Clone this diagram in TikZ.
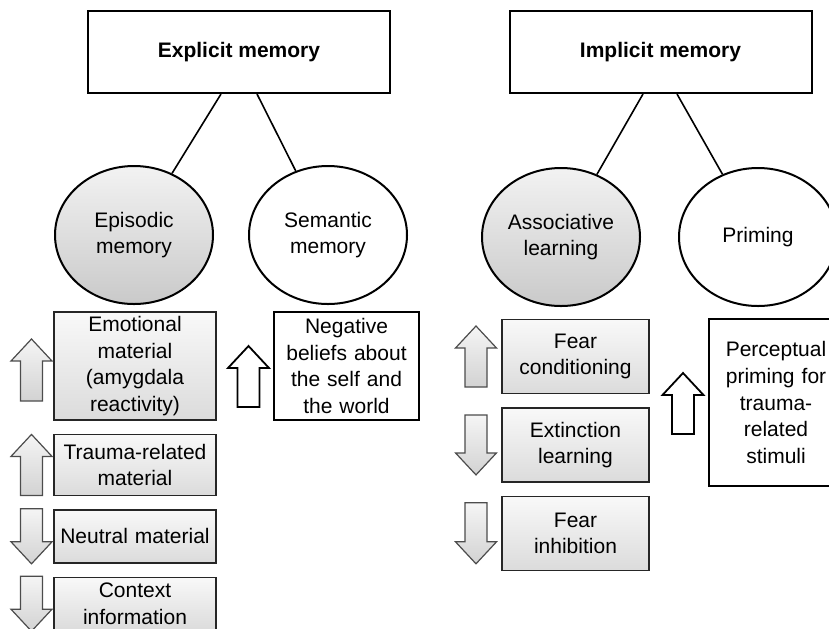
\documentclass[tikz,border=0pt]{standalone}
\usepackage{fontspec}
\setmainfont{Liberation Sans}
\usetikzlibrary{shapes.geometric, positioning}

\begin{document}
\begin{tikzpicture}[x=0.5pt, y=-0.5pt, node distance=6.5pt,
    every node/.style={font=\fontsize{10.5}{13.3}\selectfont, align=center},
    topbox/.style={draw, line width=1pt, minimum width=151pt, minimum height=41pt},
    oval/.style={ellipse, draw, line width=1pt, minimum width=79pt, minimum height=69pt, inner sep=0pt},
    grayoval/.style={oval, top color=gray!10, bottom color=gray!42},
    graybox/.style={draw=gray!30!black, line width=0.7pt, top color=gray!5, bottom color=gray!28, inner xsep=2pt, inner ysep=1pt},
    whitebox/.style={draw, line width=1pt, fill=white, inner xsep=2pt},
    arrgray/.style={draw=gray!60!black, line width=0.6pt, top color=gray!8, bottom color=gray!35},
    arrwhite/.style={draw, line width=0.9pt, fill=white},
    link/.style={line width=0.8pt},
    uparr/.pic={\path[pic actions] (0,-#1) -- (20.5,22-#1) -- (11,22-#1) -- (11,#1) -- (-11,#1) -- (-11,22-#1) -- (-20.5,22-#1) -- cycle;},
    downarr/.pic={\path[pic actions] (0,#1) -- (20.5,#1-22) -- (11,#1-22) -- (11,-#1) -- (-11,-#1) -- (-11,#1-22) -- (-20.5,#1-22) -- cycle;}]
        \useasboundingbox (0,0) rectangle (829,628);
        % Define the top boxes
        \node[topbox] (expl) at (239,52) {\textbf{Explicit memory}};
        \node[topbox] (impl) at (660.5,52) {\textbf{Implicit memory}};
        % Define the ovals
        \node[grayoval] (epi) at (134,235) {Episodic\\memory};
        \node[oval] (sem) at (328,235) {Semantic\\memory};
        \node[grayoval] (assoc) at (561,237) {Associative\\learning};
        \node[oval] (prim) at (758,237) {Priming};
        % Define the links
        \draw[link] ([xshift=-9pt]expl.south) -- (epi);
        \draw[link] ([xshift=9pt]expl.south) -- (sem);
        \draw[link] ([xshift=-8.75pt]impl.south) -- (assoc);
        \draw[link] ([xshift=8.25pt]impl.south) -- (prim);
        % Explicit memory effects
        \node[graybox, text width=77pt, minimum height=54pt] (emo) at (135,366) {Emotional\\material\\(amygdala\\reactivity)};
        \node[graybox, text width=77pt, minimum height=30.5pt, below=of emo] (trauma) {Trauma-related\\material};
        \node[graybox, text width=77pt, minimum height=26.5pt, below=of trauma] (neutral) {Neutral material};
        \node[graybox, text width=77pt, minimum height=26.5pt, below=of neutral] (context) {Context\\information};
        \node[whitebox, text width=68.5pt, minimum height=53pt] (neg) at (346.5,366) {Negative\\beliefs about\\the self and\\the world};
        \pic[arrgray] at (31.5,370) {uparr=31};
        \pic[arrgray] at (31.5,0 |- trauma) {uparr=30.5};
        \pic[arrgray] at (31.5,0 |- neutral) {downarr=27.5};
        \pic[arrgray] at (31.5,0 |- context) {downarr=27.5};
        \pic[arrwhite] at (248.5,376.5) {uparr=30.5};
        % Implicit memory effects
        \node[graybox, text width=69.5pt, minimum height=37pt] (fearcond) at (575.5,356.5) {Fear\\conditioning};
        \node[graybox, text width=69.5pt, minimum height=37pt, below=of fearcond] (extinct) {Extinction\\learning};
        \node[graybox, text width=69.5pt, minimum height=37pt, below=of extinct] (fearinh) {Fear\\inhibition};
        \node[whitebox, text width=63pt, minimum height=83.5pt] (percept) at (776,402.5) {Perceptual\\priming for\\trauma-\\related\\stimuli};
        \pic[arrgray] at (476,0 |- fearcond) {uparr=30.5};
        \pic[arrgray] at (476,0 |- extinct) {downarr=30};
        \pic[arrgray] at (476,0 |- fearinh) {downarr=30.5};
        \pic[arrwhite] at (683,403.5) {uparr=30.5};
    \end{tikzpicture}
\end{document}
